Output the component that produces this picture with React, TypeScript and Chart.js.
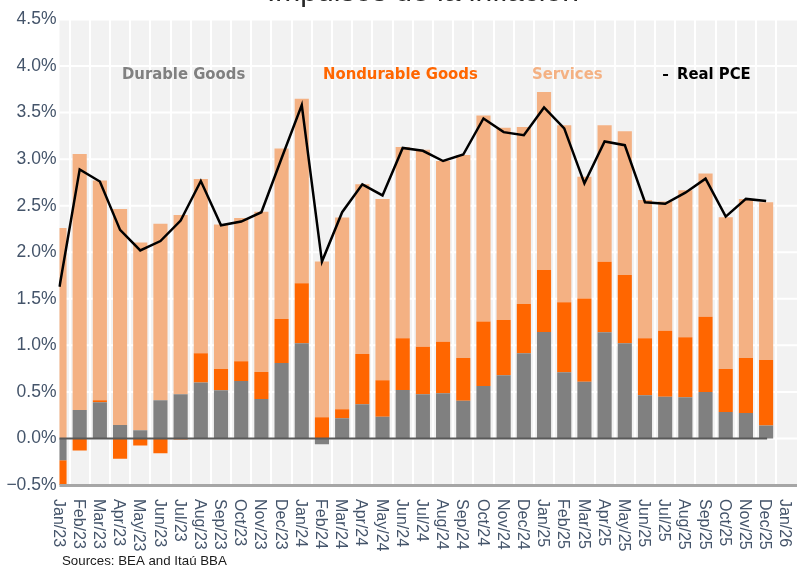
import { useEffect, useRef } from "react";
import { Chart, registerables } from "chart.js";

Chart.register(...registerables);

const months = [
  "Jan/23", "Feb/23", "Mar/23", "Apr/23", "May/23", "Jun/23", "Jul/23", "Aug/23", "Sep/23", "Oct/23", "Nov/23", "Dec/23",
  "Jan/24", "Feb/24", "Mar/24", "Apr/24", "May/24", "Jun/24", "Jul/24", "Aug/24", "Sep/24", "Oct/24", "Nov/24", "Dec/24",
  "Jan/25", "Feb/25", "Mar/25", "Apr/25", "May/25", "Jun/25", "Jul/25", "Aug/25", "Sep/25", "Oct/25", "Nov/25", "Dec/25",
  "Jan/26",
];

const durableGoods = [
  -0.235, 0.306, 0.39, 0.145, 0.088, 0.41, 0.475, 0.6, 0.518, 0.618, 0.424, 0.811,
  1.023, -0.062, 0.217, 0.367, 0.234, 0.521, 0.475, 0.485, 0.406, 0.564, 0.679, 0.915,
  1.144, 0.711, 0.61, 1.14, 1.023, 0.464, 0.449, 0.442, 0.5, 0.285, 0.274, 0.138,
  null,
];

const nondurableGoods = [
  -0.28, -0.13, 0.02, -0.217, -0.077, -0.16, -0.01, 0.315, 0.229, 0.211, 0.29, 0.473,
  0.644, 0.228, 0.097, 0.541, 0.391, 0.555, 0.511, 0.555, 0.459, 0.691, 0.594, 0.53,
  0.666, 0.752, 0.892, 0.759, 0.733, 0.612, 0.709, 0.645, 0.808, 0.462, 0.591, 0.705,
  null,
];

const services = [
  2.26, 2.75, 2.36, 2.32, 2.017, 1.895, 1.925, 1.872, 1.55, 1.54, 1.72, 1.831,
  1.983, 1.672, 2.059, 1.822, 1.948, 2.054, 2.114, 1.94, 2.179, 2.215, 2.063, 1.899,
  1.91, 1.902, 1.308, 1.466, 1.544, 1.484, 1.387, 1.579, 1.537, 1.63, 1.708, 1.694,
  null,
];

const realPCE = [
  1.63, 2.89, 2.76, 2.24, 2.02, 2.12, 2.34, 2.765, 2.29, 2.33, 2.43, 3.01,
  3.58, 1.9, 2.43, 2.73, 2.61, 3.12, 3.09, 2.98, 3.05, 3.437, 3.29, 3.258,
  3.555, 3.33, 2.74, 3.19, 3.15, 2.537, 2.52, 2.64, 2.79, 2.383, 2.573, 2.55,
  null,
];

const yMin = -0.5;
const yMax = 4.5;
const yStep = 0.5;

const titleText = "Impulsos de la inflación";
const sourceText = "Sources: BEA and Itaú BBA";

const TICK_COLOR = "#44546A";

const backgroundPlugin = {
  id: "plotBackground",
  beforeDraw(chart: any) {
    const { ctx, chartArea: a } = chart;
    const y = chart.scales.y;
    ctx.save();
    ctx.fillStyle = "#f2f2f2";
    ctx.fillRect(a.left, a.top, chart.width - a.left, a.bottom - a.top);
    ctx.strokeStyle = "#ffffff";
    ctx.lineWidth = 2;
    y.ticks.forEach((t: any) => {
      const py = y.getPixelForValue(t.value);
      ctx.beginPath();
      ctx.moveTo(a.left, py);
      ctx.lineTo(chart.width, py);
      ctx.stroke();
    });
    ctx.restore();
  },
};

const axisLinesPlugin = {
  id: "axisLines",
  afterDatasetsDraw(chart: any) {
    const { ctx, chartArea: a } = chart;
    const x = chart.scales.x;
    const y = chart.scales.y;
    let last = durableGoods.length - 1;
    while (last > 0 && durableGoods[last] == null) last--;
    ctx.save();
    const y0 = y.getPixelForValue(0);
    ctx.strokeStyle = "#595959";
    ctx.lineWidth = 2;
    ctx.beginPath();
    ctx.moveTo(a.left, y0);
    ctx.lineTo(x.getPixelForValue(last) + 1, y0);
    ctx.stroke();
    const yb = y.getPixelForValue(yMin);
    ctx.strokeStyle = "#a6a6a6";
    ctx.lineWidth = 3;
    ctx.beginPath();
    ctx.moveTo(a.left, yb + 0.5);
    ctx.lineTo(chart.width, yb + 0.5);
    ctx.stroke();
    ctx.restore();
  },
};

const textPlugin = {
  id: "texts",
  afterDraw(chart: any) {
    const { ctx, chartArea: a } = chart;
    const x = chart.scales.x;
    ctx.save();
    // rotated x labels (clockwise)
    ctx.fillStyle = TICK_COLOR;
    ctx.font = '16px "Liberation Sans", Arial, sans-serif';
    months.forEach((m, i) => {
      const px = x.getPixelForValue(i);
      ctx.save();
      ctx.translate(px - 1.5, a.bottom + 14);
      ctx.rotate(Math.PI / 2);
      ctx.textAlign = "left";
      ctx.textBaseline = "middle";
      ctx.fillText(m, 0, 0);
      ctx.restore();
    });

    // legend (text-only, inside plot)
    const ds = chart.data.datasets;
    const w = a.right - a.left;
    const ly = a.top + 55.5;
    ctx.font = 'bold 16.5px "DejaVu Sans Condensed", "Liberation Sans", sans-serif';
    ctx.textAlign = "left";
    ctx.textBaseline = "middle";
    const fracs = [0.086, 0.3626, 0.6501];
    for (let i = 0; i < 3; i++) {
      ctx.fillStyle = ds[i].backgroundColor;
      ctx.fillText(ds[i].label, a.left + w * fracs[i], ly);
    }
    const lx = a.left + w * 0.8304;
    ctx.strokeStyle = ds[3].borderColor;
    ctx.lineWidth = 2;
    ctx.beginPath();
    ctx.moveTo(lx, ly);
    ctx.lineTo(lx + 5, ly);
    ctx.stroke();
    ctx.fillStyle = ds[3].borderColor;
    ctx.fillText(ds[3].label, lx + 14, ly);

    // title (clipped at top)
    ctx.fillStyle = "#262626";
    ctx.font = '30px "Liberation Sans", Arial, sans-serif';
    ctx.textAlign = "center";
    ctx.textBaseline = "alphabetic";
    ctx.fillText(titleText, (a.left + a.right) / 2, 1);

    // source
    ctx.fillStyle = "#1a1a1a";
    ctx.font = '13.3px "Liberation Sans", Arial, sans-serif';
    ctx.textAlign = "left";
    ctx.fillText(sourceText, 62, 564.5);
    ctx.restore();
  },
};

export default function App() {
  const canvasRef = useRef<HTMLCanvasElement | null>(null);

  useEffect(() => {
    if (!canvasRef.current) return;
    Chart.defaults.font.family = '"Liberation Sans", Arial, sans-serif';
    const chart = new Chart(canvasRef.current, {
      type: "bar",
      data: {
        labels: months,
        datasets: [
          { label: "Durable Goods", data: durableGoods, backgroundColor: "#808080", stack: "components", order: 1 } as any,
          { label: "Nondurable Goods", data: nondurableGoods, backgroundColor: "#ff6600", stack: "components", order: 1 } as any,
          { label: "Services", data: services, backgroundColor: "#f4b183", stack: "components", order: 1 } as any,
          {
            type: "line",
            label: "Real PCE",
            data: realPCE,
            borderColor: "#000000",
            backgroundColor: "#000000",
            borderWidth: 2.5,
            pointRadius: 0,
            tension: 0,
            fill: false,
            stack: "pce",
            order: 0,
          } as any,
        ],
      },
      options: {
        responsive: false,
        animation: false,
        layout: { padding: { top: 19.5, right: 10.7, bottom: 0, left: 0 } },
        datasets: {
          bar: { barPercentage: 0.7, categoryPercentage: 1.0, borderWidth: 0, clip: 0 } as any,
        },
        plugins: {
          legend: { display: false },
          tooltip: { enabled: false },
          title: { display: false },
        },
        scales: {
          x: {
            type: "category",
            offset: false,
            stacked: true,
            grid: { color: "#ffffff", lineWidth: 2, drawTicks: false },
            border: { display: false },
            ticks: { display: false },
            afterFit: (s: any) => {
              s.height = 80;
            },
          },
          y: {
            stacked: true,
            min: yMin,
            max: yMax,
            grid: { display: false, drawTicks: false },
            border: { display: false },
            ticks: {
              stepSize: yStep,
              padding: 3,
              color: TICK_COLOR,
              font: { size: 17.5, family: '"Liberation Sans", Arial, sans-serif' },
              callback: (v: any) => (Number(v) < 0 ? "\u2212" : "") + Math.abs(Number(v)).toFixed(1) + "%",
            },
            afterFit: (s: any) => {
              s.width = 59.5;
            },
          },
        },
      },
      plugins: [backgroundPlugin, axisLinesPlugin, textPlugin],
    });
    return () => chart.destroy();
  }, []);

  return (
    <div style={{ position: "fixed", left: 0, top: 0, width: 797, height: 565, overflow: "hidden", background: "#ffffff" }}>
      <canvas ref={canvasRef} width={797} height={565} style={{ display: "block" }} />
    </div>
  );
}
